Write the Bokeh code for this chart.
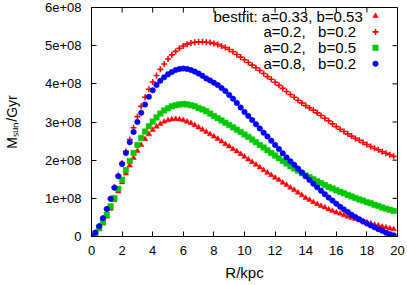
import math
from bokeh.plotting import figure
from bokeh.models import Range1d, FixedTicker, Label, ColumnDataSource
from bokeh.embed import file_html
from bokeh.resources import INLINE

# ---------------- data (values in units of 1e8 Msun/Gyr) ----------------
r_kpc = [0.0, 0.25, 0.5, 0.75, 1.0, 1.25, 1.5, 1.75, 2.0, 2.25,
         2.5, 2.75, 3.0, 3.25, 3.5, 3.75, 4.0, 4.25, 4.5, 4.75,
         5.0, 5.25, 5.5, 5.75, 6.0, 6.25, 6.5, 6.75, 7.0, 7.25,
         7.5, 7.75, 8.0, 8.25, 8.5, 8.75, 9.0, 9.25, 9.5, 9.75,
         10.0, 10.25, 10.5, 10.75, 11.0, 11.25, 11.5, 11.75, 12.0, 12.25,
         12.5, 12.75, 13.0, 13.25, 13.5, 13.75, 14.0, 14.25, 14.5, 14.75,
         15.0, 15.25, 15.5, 15.75, 16.0, 16.25, 16.5, 16.75, 17.0, 17.25,
         17.5, 17.75, 18.0, 18.25, 18.5, 18.75, 19.0, 19.25, 19.5, 19.75]

bestfit_a033_b053 = [0.00, 0.07, 0.19, 0.34, 0.52, 0.73, 0.95, 1.18, 1.42, 1.65,
                     1.86, 2.06, 2.24, 2.40, 2.55, 2.68, 2.79, 2.88, 2.95, 3.01,
                     3.05, 3.07, 3.08, 3.07, 3.05, 3.01, 2.97, 2.92, 2.86, 2.80,
                     2.74, 2.68, 2.62, 2.56, 2.49, 2.42, 2.36, 2.29, 2.23, 2.16,
                     2.09, 2.02, 1.95, 1.88, 1.81, 1.74, 1.67, 1.61, 1.54, 1.48,
                     1.41, 1.35, 1.28, 1.22, 1.15, 1.08, 1.01, 0.96, 0.90, 0.85,
                     0.80, 0.76, 0.71, 0.67, 0.63, 0.60, 0.56, 0.52, 0.49, 0.46,
                     0.43, 0.40, 0.37, 0.34, 0.31, 0.29, 0.26, 0.24, 0.21, 0.19]

a02_b02 = [0.00, 0.10, 0.27, 0.48, 0.72, 0.99, 1.29, 1.60, 1.92, 2.23,
           2.54, 2.85, 3.14, 3.41, 3.65, 3.86, 4.05, 4.22, 4.38, 4.52,
           4.65, 4.76, 4.85, 4.93, 4.99, 5.04, 5.07, 5.09, 5.10, 5.10,
           5.09, 5.08, 5.06, 5.03, 4.99, 4.95, 4.90, 4.84, 4.77, 4.70,
           4.63, 4.56, 4.49, 4.42, 4.35, 4.27, 4.19, 4.12, 4.04, 3.96,
           3.88, 3.80, 3.72, 3.65, 3.57, 3.50, 3.43, 3.37, 3.31, 3.24,
           3.17, 3.10, 3.03, 2.95, 2.88, 2.81, 2.75, 2.69, 2.63, 2.57,
           2.52, 2.46, 2.41, 2.36, 2.31, 2.27, 2.22, 2.18, 2.14, 2.10]

a02_b05 = [0.00, 0.08, 0.22, 0.38, 0.57, 0.79, 1.01, 1.25, 1.49, 1.74,
           1.98, 2.19, 2.40, 2.58, 2.75, 2.89, 3.01, 3.12, 3.22, 3.30,
           3.36, 3.41, 3.44, 3.46, 3.47, 3.46, 3.44, 3.41, 3.37, 3.33,
           3.28, 3.22, 3.16, 3.10, 3.04, 2.98, 2.92, 2.86, 2.80, 2.74,
           2.67, 2.61, 2.54, 2.47, 2.40, 2.33, 2.26, 2.19, 2.12, 2.05,
           1.98, 1.91, 1.84, 1.78, 1.72, 1.66, 1.60, 1.55, 1.50, 1.45,
           1.40, 1.35, 1.30, 1.26, 1.21, 1.17, 1.13, 1.09, 1.05, 1.01,
           0.97, 0.94, 0.90, 0.87, 0.83, 0.80, 0.76, 0.73, 0.70, 0.67]

a08_b02 = [0.00, 0.10, 0.27, 0.48, 0.72, 0.99, 1.28, 1.58, 1.90, 2.19,
           2.47, 2.74, 3.00, 3.24, 3.46, 3.66, 3.83, 3.97, 4.08, 4.17,
           4.25, 4.31, 4.36, 4.39, 4.40, 4.39, 4.36, 4.32, 4.27, 4.21,
           4.14, 4.09, 4.03, 3.97, 3.89, 3.81, 3.71, 3.61, 3.50, 3.38,
           3.26, 3.16, 3.05, 2.94, 2.83, 2.72, 2.62, 2.51, 2.40, 2.29,
           2.18, 2.07, 1.97, 1.88, 1.78, 1.68, 1.58, 1.48, 1.38, 1.29,
           1.20, 1.11, 1.02, 0.94, 0.86, 0.78, 0.71, 0.64, 0.57, 0.51,
           0.45, 0.39, 0.34, 0.29, 0.24, 0.19, 0.15, 0.10, 0.06, 0.03]

x_ticks = [0, 2, 4, 6, 8, 10, 12, 14, 16, 18, 20]
x_tick_labels = ["0", "2", "4", "6", "8", "10", "12", "14", "16", "18", "20"]
y_ticks = [0, 100000000, 200000000, 300000000, 400000000, 500000000, 600000000]
y_tick_labels = ["0", "1e+08", "2e+08", "3e+08", "4e+08", "5e+08", "6e+08"]

x_title = "R/kpc"
y_title = "M\u209b\u1d64\u2099/Gyr"

legend_labels = ["bestfit: a=0.33, b=0.53",
                 "a=0.2,\u00a0\u00a0\u00a0b=0.2",
                 "a=0.2,\u00a0\u00a0\u00a0b=0.5",
                 "a=0.8,\u00a0\u00a0\u00a0b=0.2"]

SCALE = 1e8
FONT = "Liberation Sans"
RED, GREEN, BLUE = "#ff0000", "#00c800", "#0000ff"

# ---------------- layout (pixels) ----------------
W, H = 407, 285
FRAME_L, FRAME_R, FRAME_T, FRAME_B = 91, 397, 7, 236
X0, X1, Y0, Y1 = 0, 20, 0, 6e8


def dx(px):
    return X0 + (px - FRAME_L) / (FRAME_R - FRAME_L) * (X1 - X0)


def dy(py):
    return Y0 + (FRAME_B - py) / (FRAME_B - FRAME_T) * (Y1 - Y0)


p = figure(frame_width=FRAME_R - FRAME_L, frame_height=FRAME_B - FRAME_T,
           x_range=Range1d(X0, X1), y_range=Range1d(Y0, Y1),
           output_backend="svg", toolbar_location=None,
           min_border_left=FRAME_L, min_border_right=W - FRAME_R,
           min_border_top=FRAME_T, min_border_bottom=H - FRAME_B,
           background_fill_color="white", border_fill_color="white")
p.grid.visible = False
p.outline_line_color = "black"
p.outline_line_width = 1

src = ColumnDataSource(dict(
    r=r_kpc,
    bestfit=[v * SCALE for v in bestfit_a033_b053],
    b02=[v * SCALE for v in a02_b02],
    b05=[v * SCALE for v in a02_b05],
    a08=[v * SCALE for v in a08_b02],
))

styles = [dict(marker="triangle", size=5.5, fill_color=RED, line_color=RED, line_width=0.5),
          dict(marker="cross", size=6, line_color=RED, line_width=1.6),
          dict(marker="square", size=5.5, fill_color=GREEN, line_color=GREEN, line_width=0.5),
          dict(marker="circle", size=5.5, fill_color=BLUE, line_color=BLUE, line_width=0.5)]

for col, st in zip(["bestfit", "b02", "b05", "a08"], styles):
    p.scatter("r", col, source=src, **st)

# axes: ticks inside, gnuplot style
for ax, ticks, labels in [(p.xaxis[0], x_ticks, x_tick_labels), (p.yaxis[0], y_ticks, y_tick_labels)]:
    ax.ticker = FixedTicker(ticks=ticks)
    ax.major_label_overrides = {t: l for t, l in zip(ticks, labels)}
    ax.axis_line_color = "black"
    ax.major_tick_line_color = "black"
    ax.major_tick_in = 5
    ax.major_tick_out = 0
    ax.minor_tick_line_color = None
    ax.major_label_text_font = FONT
    ax.major_label_text_font_size = "13px"
    ax.major_label_text_color = "black"
    ax.axis_label_text_font = FONT
    ax.axis_label_text_font_style = "normal"
    ax.axis_label_text_color = "black"

xa = p.xaxis[0]
xa.major_label_standoff = 9
xa.axis_label = x_title
xa.axis_label_text_font_size = "15px"
xa.axis_label_standoff = 6

ya = p.yaxis[0]
ya.major_label_standoff = 10
ya.axis_label = y_title
ya.axis_label_text_font_size = "14px"
ya.axis_label_standoff = 22

# mirrored ticks on the top and right edges (dash markers clipped by the frame)
tick_len = 10
p.scatter(x=x_ticks, y=[Y1] * len(x_ticks), marker="dash", angle=math.pi / 2,
          size=tick_len, line_color="black", line_width=1)
p.scatter(x=[X1] * len(y_ticks), y=y_ticks, marker="dash",
          size=tick_len, line_color="black", line_width=1)

# key (gnuplot style: text, then symbol on the right)
row_y = [15.5 + 15.9 * i for i in range(len(legend_labels))]
text_left = [213, 263, 263, 263]
key_x = 375
for i, (t, st) in enumerate(zip(legend_labels, styles)):
    p.add_layout(Label(x=dx(text_left[i]), y=dy(row_y[i]), x_units="data", y_units="data",
                       text=t, text_font=FONT, text_font_size="15px",
                       text_color="black", text_align="left", text_baseline="middle"))
    p.scatter(x=[dx(key_x)], y=[dy(row_y[i])], **st)

open("out.html", "w").write(file_html(p, INLINE))
